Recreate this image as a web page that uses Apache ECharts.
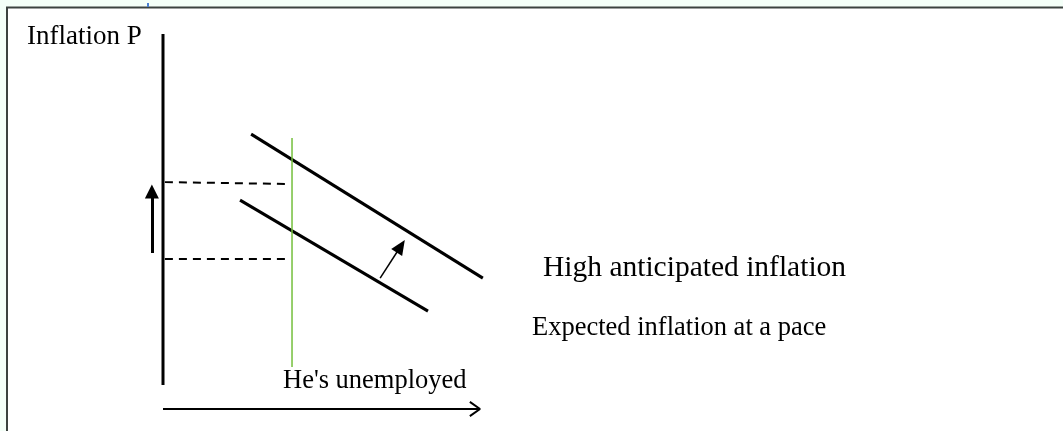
<!DOCTYPE html>
<html>
<head>
<meta charset="utf-8">
<script src="https://cdn.jsdelivr.net/npm/echarts@6/dist/echarts.min.js"></script>
<style>
  html, body { margin: 0; padding: 0; background: #f4fff8; }
  #chart { width: 1063px; height: 431px; }
</style>
</head>
<body>
<div id="chart"></div>
<script>
  // diagram units: unemployment on x (0..100), inflation on y (0..100)
  const vAxisLine = [[0, 6.4], [0, 100]]
  const hAxisLine = [[0, 0], [100, 0]]
  const hAxisHead = [[96.8, 1.9], [100, 0], [96.8, -1.9]]
  const highCurve = [[27.8, 73.3], [100.9, 34.9]]   // high anticipated inflation
  const lowCurve = [[24.3, 55.7], [83.6, 26.1]]     // expected inflation at a pace
  const naturalRate = [[40.7, 11.2], [40.7, 72.3]]
  const upperDash = [[0.6, 60.5], [40.1, 60]]
  const lowerDash = [[0.6, 40], [39.1, 40]]
  const riseArrow = [[-3.5, 41.6], [-3.5, 58.0]]
  const shiftArrow = [[68.5, 34.9], [75.0, 43.4]]

  const serif = "'Liberation Serif', 'Times New Roman', serif"
  let chart = echarts.init(document.getElementById('chart'))

  function seg (data, color, width, type) {
    return {
      type: 'line',
      data: data,
      showSymbol: false,
      clip: false,
      silent: true,
      lineStyle: { color: color, width: width, type: type || 'solid' }
    }
  }

  function arrow (pts, width, head) {
    return {
      type: 'line',
      data: [],
      silent: true,
      markLine: {
        silent: true,
        symbol: ['none', 'triangle'],
        symbolSize: head,
        label: { show: false },
        lineStyle: { color: '#000', width: width, type: 'solid' },
        data: [[{ coord: pts[0] }, { coord: pts[1] }]]
      }
    }
  }

  const option = {
    backgroundColor: '#f4fff8',
    animation: false,
    grid: { left: 131.3, right: 551.3, top: 34, bottom: 3.25 },
    xAxis: { type: 'value', min: -10, max: 110, show: false },
    yAxis: { type: 'value', min: -5, max: 100, show: false },
    graphic: [
      {
        type: 'rect', z: -10,
        shape: { x: 7, y: 7.5, width: 1100, height: 500 },
        style: { fill: '#ffffff', stroke: '#3c423f', lineWidth: 2 }
      },
      { type: 'rect', shape: { x: 147, y: 3, width: 2, height: 4 }, style: { fill: '#4a7fd0' } },
      {
        type: 'text', x: 27, y: 37,
        style: { text: 'Inflation P', font: '27px ' + serif, fill: '#000', verticalAlign: 'middle' }
      },
      {
        type: 'text', x: 543, y: 268,
        style: { text: 'High anticipated inflation', font: '29.5px ' + serif, fill: '#000', verticalAlign: 'middle' }
      },
      {
        type: 'text', x: 532, y: 328,
        style: { text: 'Expected inflation at a pace', font: '26.5px ' + serif, fill: '#000', verticalAlign: 'middle' }
      },
      {
        type: 'text', x: 283, y: 381,
        style: { text: "He's unemployed", font: '26.5px ' + serif, fill: '#000', verticalAlign: 'middle' }
      }
    ],
    series: [
      seg(vAxisLine, '#000', 3),
      seg(hAxisLine, '#000', 2),
      seg(hAxisHead, '#000', 2),
      seg(highCurve, '#000', 3),
      seg(lowCurve, '#000', 3),
      seg(naturalRate, '#74bf3c', 1.5),
      seg(upperDash, '#000', 2, [8, 6]),
      seg(lowerDash, '#000', 2, [8, 6]),
      arrow(riseArrow, 3, [14, 14]),
      arrow(shiftArrow, 1.5, [13, 15])
    ]
  }
  chart.setOption(option)
</script>
</body>
</html>
